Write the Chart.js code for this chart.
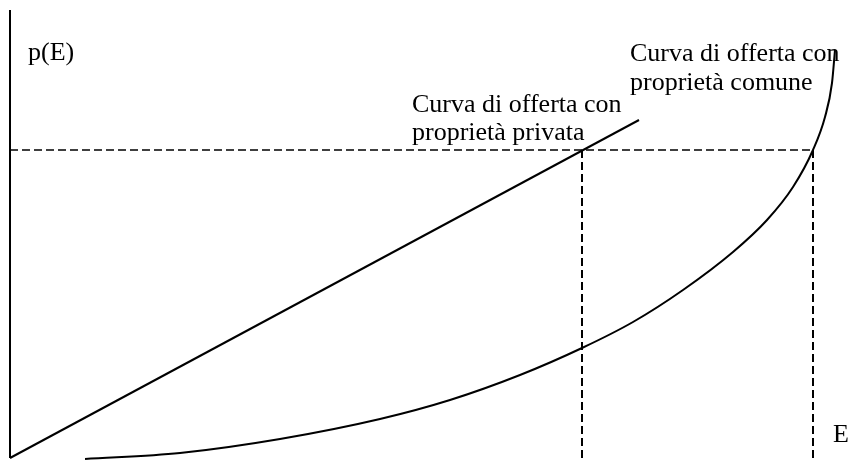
<!DOCTYPE html>
<html>
<head>
<meta charset="utf-8">
<script src="https://cdn.jsdelivr.net/npm/chart.js@4.4.1/dist/chart.umd.min.js"></script>
<style>
  html, body { margin: 0; padding: 0; background: #fff; }
  #wrap { width: 862px; height: 460px; }
</style>
</head>
<body>
<div id="wrap"><canvas id="supply"></canvas></div>
<script>
/* values (E on x, p(E) on y) */
const privateE = [0, 62.9];
const privateP = [0, 33.8];

const commonE = [7.5, 17, 27, 37, 44, 51, 57.2, 62.3, 67.3, 72.3, 75.7, 78.3, 80.3, 81.5, 82.2, 82.5];
const commonP = [-0.1, 0.5, 1.9, 3.9, 5.8, 8.3, 11.0, 13.6, 16.8, 20.6, 23.8, 27.1, 30.8, 34.1, 37.5, 40.8];

const eqP = 30.8;          // price level of the dashed line
const eqPrivateE = 57.2;   // E with private property
const eqCommonE = 80.3;    // E with common property
const axisTop = 44.8;

const labelPrivate = ['Curva di offerta con', 'proprietà privata'];
const labelCommon = ['Curva di offerta con', 'proprietà comune'];
const labelY = 'p(E)';
const labelX = 'E';

function pts(xs, ys) {
    return xs.map(function(x, i) { return {x: x, y: ys[i]}; });
}

const dash = [8, 4];

const textPlugin = {
    id: 'texts',
    afterDraw: function(chart) {
        const c = chart.ctx;
        const sx = chart.scales.x, sy = chart.scales.y;
        c.save();
        c.fillStyle = '#000';
        c.font = '26px "Liberation Serif", serif';
        c.textBaseline = 'alphabetic';
        c.fillText(labelY, sx.getPixelForValue(1.8), sy.getPixelForValue(39.8));
        c.fillText(labelX, sx.getPixelForValue(82.3), sy.getPixelForValue(1.6));
        labelPrivate.forEach(function(t, i) {
            c.fillText(t, sx.getPixelForValue(40.2), sy.getPixelForValue(34.6 - i * 2.8));
        });
        labelCommon.forEach(function(t, i) {
            c.fillText(t, sx.getPixelForValue(62.0), sy.getPixelForValue(39.7 - i * 2.9));
        });
        c.restore();
    }
};

const ctx_supply = document.getElementById('supply').getContext('2d');
const supplyChart = new Chart(ctx_supply, {
    type: 'scatter',
    data: {
        datasets: [{
            label: 'asse',
            data: [{x: 0, y: axisTop}, {x: 0, y: 0}],
            showLine: true,
            borderColor: '#000',
            borderWidth: 2,
            pointRadius: 0
        }, {
            label: 'proprietà privata',
            data: pts(privateE, privateP),
            showLine: true,
            borderColor: '#000',
            borderWidth: 2,
            pointRadius: 0
        }, {
            label: 'proprietà comune',
            data: pts(commonE, commonP),
            showLine: true,
            cubicInterpolationMode: 'monotone',
            borderColor: '#000',
            borderWidth: 2,
            pointRadius: 0
        }, {
            label: 'prezzo',
            data: [{x: 0, y: eqP}, {x: eqCommonE, y: eqP}],
            showLine: true,
            borderDash: dash,
            borderColor: '#000',
            borderWidth: 1.5,
            pointRadius: 0
        }, {
            label: 'E privata',
            data: [{x: eqPrivateE, y: eqP}, {x: eqPrivateE, y: -0.2}],
            showLine: true,
            borderDash: dash,
            borderColor: '#000',
            borderWidth: 2,
            pointRadius: 0
        }, {
            label: 'E comune',
            data: [{x: eqCommonE, y: eqP}, {x: eqCommonE, y: -0.2}],
            showLine: true,
            borderDash: dash,
            borderColor: '#000',
            borderWidth: 2,
            pointRadius: 0
        }]
    },
    options: {
        responsive: true,
        maintainAspectRatio: false,
        animation: false,
        layout: { padding: 0 },
        plugins: {
            legend: { display: false },
            tooltip: { enabled: false }
        },
        scales: {
            x: { type: 'linear', min: -1, max: 85.2, display: false },
            y: { type: 'linear', min: -0.2, max: 45.8, display: false }
        }
    },
    plugins: [textPlugin]
});
</script>
</body>
</html>
